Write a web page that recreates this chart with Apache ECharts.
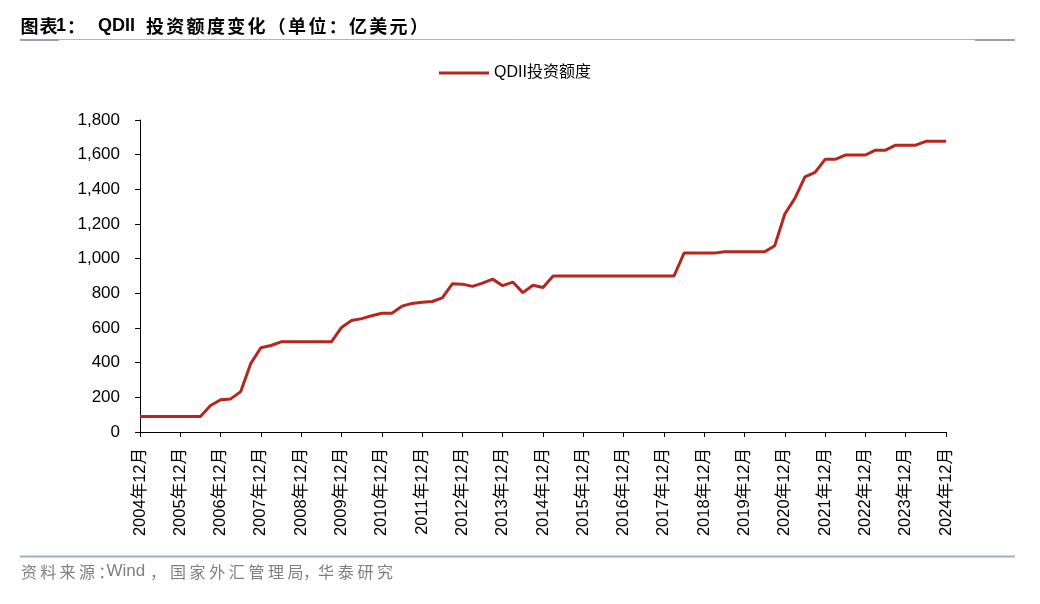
<!DOCTYPE html>
<html>
<head>
<meta charset="utf-8">
<script src="https://cdn.jsdelivr.net/npm/echarts@6/dist/echarts.min.js"></script>
<style>
html,body{margin:0;padding:0;background:#fff;}
#chart{width:1040px;height:604px;}
</style>
</head>
<body>
<div id="chart"></div>
<script>
// ---- data ----
const categories = [
  '2004年12月',
  '2005年03月','2005年06月','2005年09月','2005年12月',
  '2006年03月','2006年06月','2006年09月','2006年12月',
  '2007年03月','2007年06月','2007年09月','2007年12月',
  '2008年03月','2008年06月','2008年09月','2008年12月',
  '2009年03月','2009年06月','2009年09月','2009年12月',
  '2010年03月','2010年06月','2010年09月','2010年12月',
  '2011年03月','2011年06月','2011年09月','2011年12月',
  '2012年03月','2012年06月','2012年09月','2012年12月',
  '2013年03月','2013年06月','2013年09月','2013年12月',
  '2014年03月','2014年06月','2014年09月','2014年12月',
  '2015年03月','2015年06月','2015年09月','2015年12月',
  '2016年03月','2016年06月','2016年09月','2016年12月',
  '2017年03月','2017年06月','2017年09月','2017年12月',
  '2018年03月','2018年06月','2018年09月','2018年12月',
  '2019年03月','2019年06月','2019年09月','2019年12月',
  '2020年03月','2020年06月','2020年09月','2020年12月',
  '2021年03月','2021年06月','2021年09月','2021年12月',
  '2022年03月','2022年06月','2022年09月','2022年12月',
  '2023年03月','2023年06月','2023年09月','2023年12月',
  '2024年03月','2024年06月','2024年09月','2024年12月'
];
const qdiiQuota = [
  90,
  90, 90, 90, 90,
  90, 90, 153, 186,
  191, 233, 396, 486,
  499, 520, 520, 520,
  520, 520, 520, 603,
  643, 654, 671, 685,
  685, 726, 742, 749,
  753, 774, 855, 853,
  840, 859, 882, 844,
  865, 804, 847, 834,
  900, 900, 900, 900,
  900, 900, 900, 900,
  900, 900, 900, 900,
  900, 1032, 1032, 1032,
  1032, 1040, 1040, 1040,
  1040, 1040, 1075, 1258,
  1348, 1472, 1498, 1573,
  1573, 1598, 1598, 1598,
  1626, 1626, 1655, 1655,
  1655, 1677, 1677, 1677
];
const seriesName = 'QDII投资额度';
const yTicks = [0, 200, 400, 600, 800, 1000, 1200, 1400, 1600, 1800];

// ---- helpers for letter-spaced text ----
function run(str, x, y, adv, font, fill) {
  return Array.from(str).map((ch, i) => ({
    type: 'text', silent: true,
    style: { text: ch, x: x + i * adv, y: y, font: font, fill: fill,
             textAlign: 'left', textVerticalAlign: 'middle', align: 'left', verticalAlign: 'middle' }
  }));
}
function txt(str, x, y, font, fill) {
  return [{ type: 'text', silent: true,
    style: { text: str, x: x, y: y, font: font, fill: fill,
             textAlign: 'left', textVerticalAlign: 'middle', align: 'left', verticalAlign: 'middle' } }];
}

const cjkBold = 'bold 18px "Noto Sans CJK SC", "Liberation Sans", sans-serif';
const latBold = 'bold 18px "Liberation Sans", Arial, sans-serif';
const cjkSrc = '16px "Noto Sans CJK SC", "Liberation Sans", sans-serif';
const latSrc = '17px "Liberation Sans", Arial, sans-serif';
const srcColor = '#7F7F7F';
const tY = 26, sY = 571.5;

const graphics = [].concat(
  run('图表', 20.5, tY, 19, cjkBold, '#000'),
  txt('1', 56, tY, latBold, '#000'),
  txt('：', 67, tY, cjkBold, '#000'),
  txt('QDII', 98, tY, latBold, '#000'),
  run('投资额度变化（单位：亿美元）', 146, tY, 20.3, cjkBold, '#000'),
  run('资料来源：', 21, sY, 19.3, cjkSrc, srcColor),
  txt('Wind', 106.5, sY, latSrc, srcColor),
  txt('，', 150, sY, cjkSrc, srcColor),
  run('国家外汇管理局', 170, sY, 19.6, cjkSrc, srcColor),
  txt('，', 303, sY, cjkSrc, srcColor),
  run('华泰研究', 318, sY, 19.7, cjkSrc, srcColor),
  [
    { type: 'line', silent: true, shape: { x1: 20, y1: 39.5, x2: 1015, y2: 39.5 },
      style: { stroke: '#A9B7CA', lineWidth: 1 } },
    { type: 'line', silent: true, shape: { x1: 20, y1: 40, x2: 59, y2: 40 },
      style: { stroke: '#8EA2BC', lineWidth: 2 } },
    { type: 'line', silent: true, shape: { x1: 975, y1: 40, x2: 1015, y2: 40 },
      style: { stroke: '#8EA2BC', lineWidth: 2 } },
    { type: 'line', silent: true, shape: { x1: 20, y1: 556.5, x2: 1015, y2: 556.5 },
      style: { stroke: '#9FAFC3', lineWidth: 2 } }
  ]
);

const isDec = (idx, val) => String(val || categories[idx]).endsWith('12月');

const chart = echarts.init(document.getElementById('chart'), null, { renderer: 'canvas' });
chart.setOption({
  backgroundColor: '#ffffff',
  animation: false,
  aria: { enabled: false },
  graphic: { elements: graphics },
  legend: {
    data: [{ name: seriesName, icon: 'rect' }],
    left: 439, top: 65, padding: 0,
    itemWidth: 50, itemHeight: 3, itemGap: 10,
    textStyle: { fontSize: 16, color: '#000', fontFamily: '"Liberation Sans", "Noto Sans CJK SC", sans-serif' }
  },
  grid: { left: 140, right: 94, top: 120, bottom: 172, containLabel: false },
  xAxis: {
    type: 'category',
    data: categories,
    boundaryGap: false,
    axisLine: { lineStyle: { color: '#000', width: 1 } },
    axisTick: { show: true, inside: false, length: 5, interval: isDec, alignWithLabel: true,
                lineStyle: { color: '#000' } },
    axisLabel: {
      interval: isDec, rotate: 90, margin: 16,
      fontSize: 16.5, color: '#000',
      fontFamily: '"Liberation Sans", "Noto Sans CJK SC", sans-serif'
    },
    splitLine: { show: false }
  },
  yAxis: {
    type: 'value',
    min: yTicks[0], max: yTicks[yTicks.length - 1], interval: 200,
    axisLine: { show: true, lineStyle: { color: '#000', width: 1 } },
    axisTick: { show: true, inside: false, length: 5, lineStyle: { color: '#000' } },
    axisLabel: {
      margin: 20, fontSize: 17, color: '#000',
      fontFamily: '"Liberation Sans", Arial, sans-serif',
      formatter: v => Number(v).toLocaleString('en-US')
    },
    splitLine: { show: false }
  },
  series: [{
    name: seriesName,
    type: 'line',
    data: qdiiQuota,
    showSymbol: false,
    symbol: 'none',
    lineStyle: { color: '#B5261E', width: 3 },
    itemStyle: { color: '#B5261E' },
    emphasis: { disabled: true }
  }]
});
</script>
</body>
</html>
